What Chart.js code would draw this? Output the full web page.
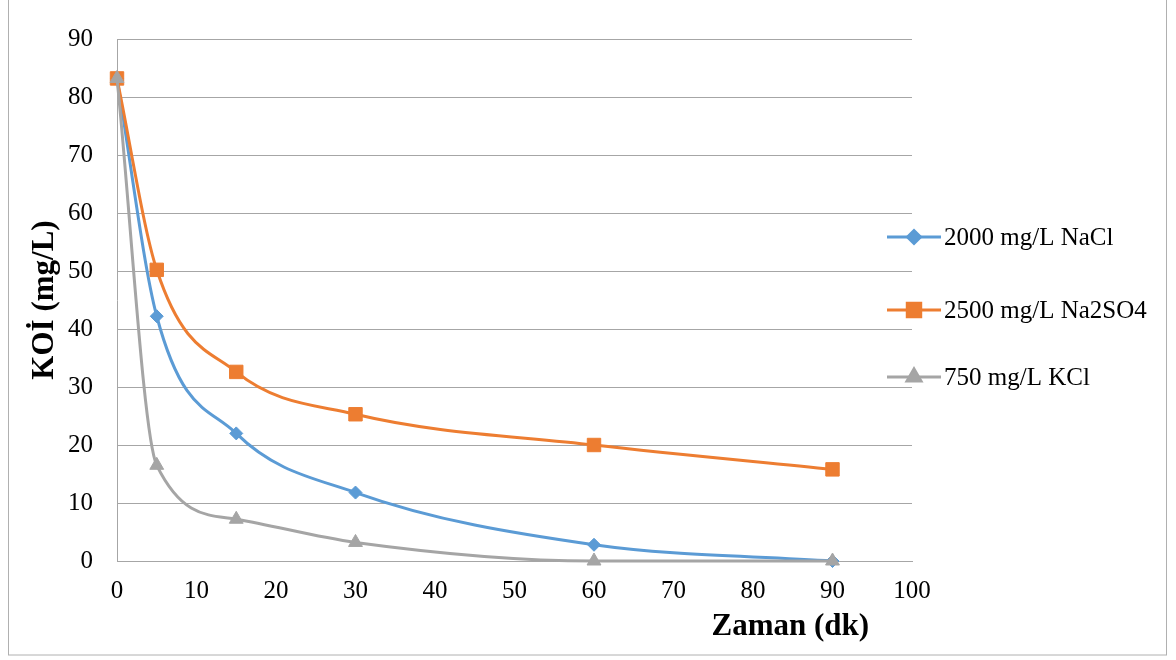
<!DOCTYPE html>
<html>
<head>
<meta charset="utf-8">
<script src="https://cdn.jsdelivr.net/npm/chart.js@4.4.1/dist/chart.umd.min.js"></script>
<style>
  html, body { margin: 0; padding: 0; background: #fff; }
  #wrap { width: 1176px; height: 660px; }
</style>
</head>
<body>
<div id="wrap"><canvas id="koiChart" width="1176" height="660"></canvas></div>
<script>
// veriler
const zaman = [0, 5, 15, 30, 60, 90];
const nacl = [83.2, 42.2, 22.0, 11.8, 2.8, 0];
const na2so4 = [83.2, 50.2, 32.6, 25.3, 20.0, 15.8];
const kcl = [83.2, 16.5, 7.2, 3.2, 0, 0];
const seriesNames = ['2000 mg/L NaCl', '2500 mg/L Na2SO4', '750 mg/L KCl'];

const serif = "'Liberation Serif', 'Times New Roman', serif";

function toPoints(values) {
  return zaman.map((x, i) => ({ x: x, y: values[i] }));
}

// kenarlik + sag taraftaki legend + x basligi
const extras = {
  id: 'extras',
  beforeDraw(chart) {
    const c = chart.ctx;
    c.save();
    c.fillStyle = '#fff';
    c.fillRect(0, 0, chart.width, chart.height);
    c.strokeStyle = '#b0b0b0';
    c.lineWidth = 1;
    c.strokeRect(8.5, -1, 1158, 656);
    c.restore();
  },
  afterDraw(chart) {
    const c = chart.ctx;
    const area = chart.chartArea;
    c.save();
    // x ekseni basligi
    c.font = 'bold 31px ' + serif;
    c.fillStyle = '#000';
    c.textAlign = 'center';
    c.textBaseline = 'middle';
    c.fillText('Zaman (dk)', area.left + area.width * 0.847, 627);

    // legend
    const rows = [237, 310, 377];
    c.font = '25px ' + serif;
    c.textAlign = 'left';
    chart.data.datasets.forEach((ds, i) => {
      const y = rows[i];
      c.strokeStyle = ds.borderColor;
      c.lineWidth = 3;
      c.beginPath();
      c.moveTo(887, y);
      c.lineTo(941, y);
      c.stroke();
      Chart.helpers.drawPoint(c, {
        pointStyle: ds.pointStyle,
        radius: ds.pointRadius,
        borderWidth: 1
      }, 914, y);
      c.fillStyle = ds.borderColor;
      c.fill();
      c.fillStyle = '#000';
      c.fillText(ds.label, 944, y + 1);
    });
    c.restore();
  }
};

new Chart(document.getElementById('koiChart'), {
  type: 'scatter',
  data: {
    datasets: [
      {
        label: seriesNames[0],
        data: toPoints(nacl),
        borderColor: '#5B9BD5',
        backgroundColor: '#5B9BD5',
        pointStyle: 'rectRot',
        pointRadius: 6.5,
        order: 3
      },
      {
        label: seriesNames[1],
        data: toPoints(na2so4),
        borderColor: '#ED7D31',
        backgroundColor: '#ED7D31',
        pointStyle: 'rect',
        pointRadius: 9.5,
        order: 2
      },
      {
        label: seriesNames[2],
        data: toPoints(kcl),
        borderColor: '#A5A5A5',
        backgroundColor: '#A5A5A5',
        pointStyle: 'triangle',
        pointRadius: 8,
        order: 1
      }
    ].map(ds => Object.assign(ds, {
      showLine: true,
      borderWidth: 3,
      cubicInterpolationMode: 'monotone',
      pointBorderWidth: 1,
      pointHoverRadius: ds.pointRadius,
      clip: false
    }))
  },
  options: {
    responsive: false,
    animation: false,
    layout: { padding: { left: 8, right: 264, top: 38, bottom: 0 } },
    plugins: {
      legend: { display: false },
      tooltip: { enabled: false }
    },
    scales: {
      x: {
        type: 'linear',
        min: 0,
        max: 100,
        ticks: { stepSize: 10, color: '#000', font: { family: serif, size: 25 }, padding: 15 },
        grid: { display: false, drawTicks: false },
        border: { display: true, color: '#a6a6a6', width: 1 },
        afterFit(scale) { scale.height = 99; }
      },
      y: {
        min: 0,
        max: 90,
        ticks: { stepSize: 10, color: '#000', font: { family: serif, size: 25 }, padding: 24 },
        grid: { color: '#a6a6a6', drawTicks: false },
        border: { display: true, color: '#a6a6a6', width: 1 },
        title: {
          display: true,
          text: 'KOİ (mg/L)',
          color: '#000',
          font: { family: serif, size: 31, weight: 'bold' },
          padding: { top: 18, bottom: 0 }
        },
        afterFit(scale) { scale.width = 109; }
      }
    }
  },
  plugins: [extras]
});
</script>
</body>
</html>
